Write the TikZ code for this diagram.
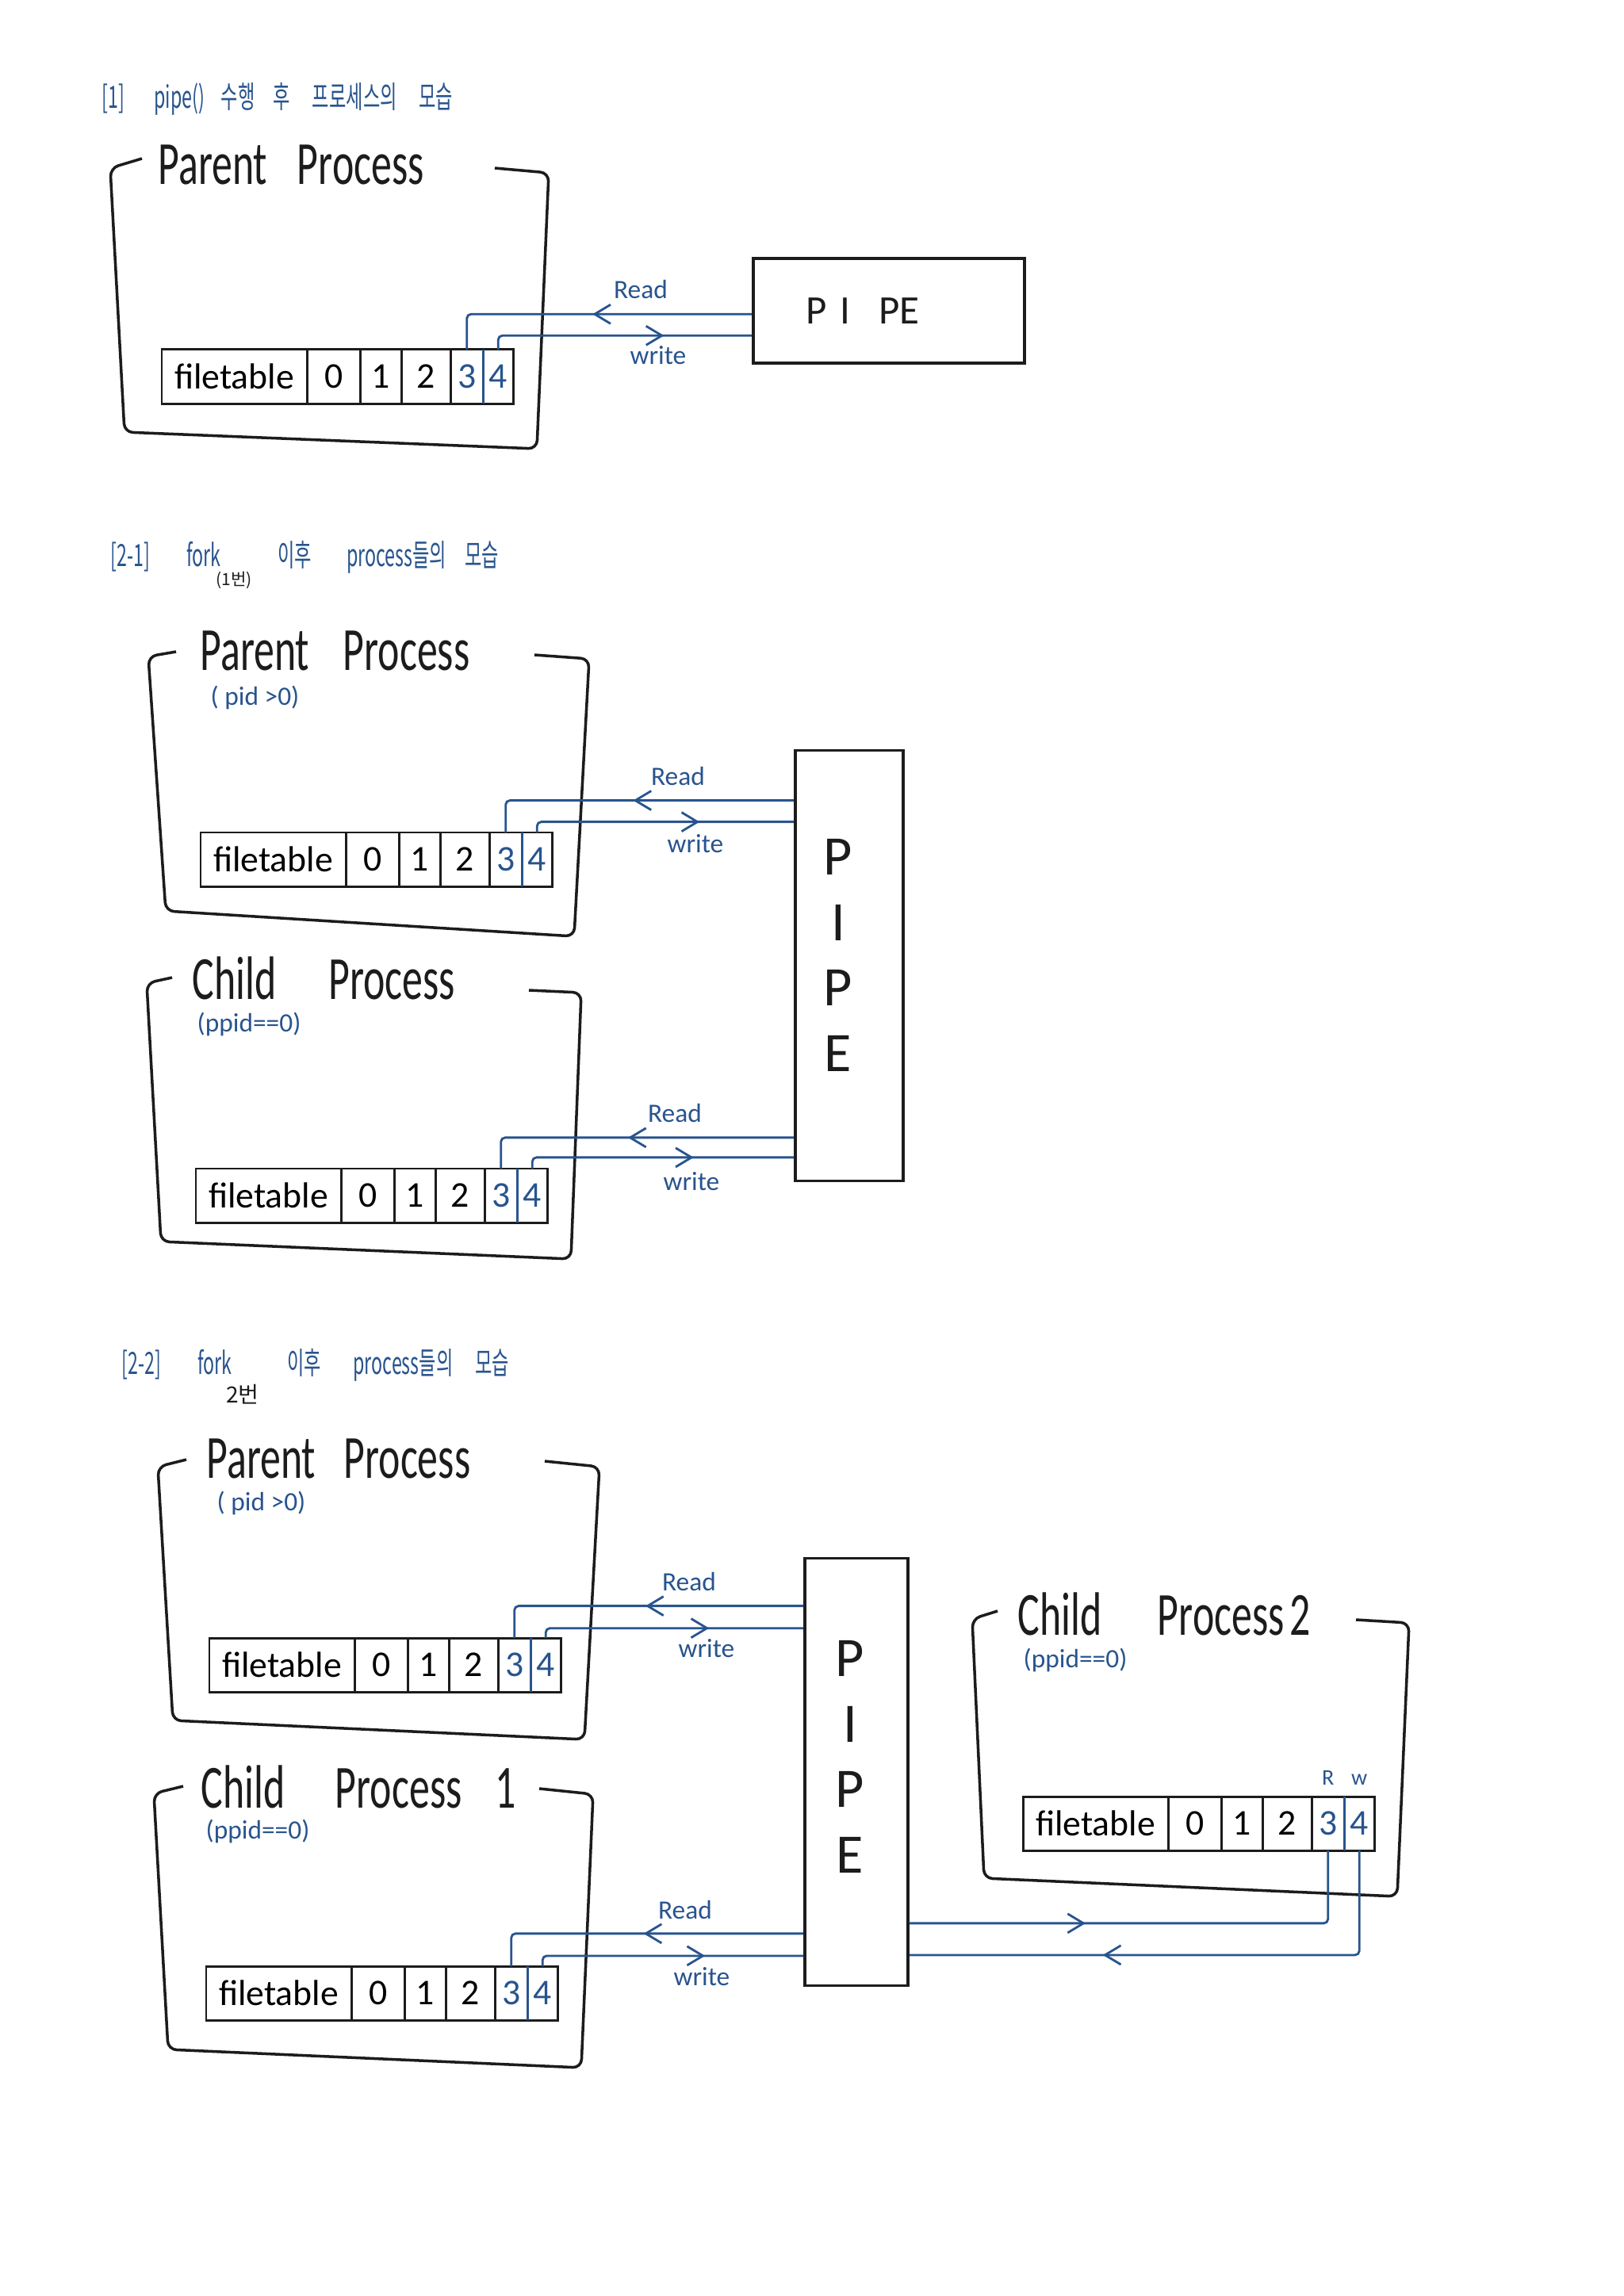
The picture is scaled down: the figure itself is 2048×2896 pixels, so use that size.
\documentclass[tikz,border=0pt]{standalone}
\usepackage{fontspec}
\setmainfont{Carlito}
\newfontfamily\krfont{Noto Sans CJK KR}
\usetikzlibrary{arrows.meta,positioning,decorations.markings}

\definecolor{ink}{RGB}{40,84,142}
\definecolor{pen}{RGB}{28,28,28}

\newcommand{\fdtable}[2]{%
  \node[ftcell, minimum width=1.83cm] (#1f) at (#2) {filetable};
  \node[ftcell, minimum width=0.67cm, right=0pt of #1f] (#10) {0};
  \node[ftcell, minimum width=0.52cm, right=0pt of #10] (#11) {1};
  \node[ftcell, minimum width=0.62cm, right=0pt of #11] (#12) {2};
  \node[ftcell, minimum width=0.41cm, right=0pt of #12, text=ink] (#13) {3};
  \node[ftcell, minimum width=0.38cm, right=0pt of #13, text=ink] (#14) {4};
  \draw[ftline] (#1f.north west) rectangle (#14.south east);
  \draw[ftline] (#10.north west) -- (#10.south west);
  \draw[ftline] (#11.north west) -- (#11.south west);
  \draw[ftline] (#12.north west) -- (#12.south west);
  \draw[ftline] (#13.north west) -- (#13.south west);
  \draw[ftline, ink] (#14.north west) -- (#14.south west);
}

\begin{document}
\begin{tikzpicture}[x=0.01cm, y=-0.01cm,
  procbox/.style={pen, line width=1pt, line join=round, rounded corners=3pt},
  ftline/.style={pen, line width=0.85pt},
  wire/.style={ink, line width=0.8pt, rounded corners=1.5pt},
  midarrow/.style={postaction={decorate}, decoration={markings,
    mark=at position #1 with {\arrow{Straight Barb[length=2mm,width=2.4mm]}}}},
  ftcell/.style={anchor=west, minimum height=0.68cm, inner sep=0pt, outer sep=0pt,
    font=\fontsize{13}{13}\selectfont},
  heading/.style={anchor=west, ink, inner sep=1pt, xscale=0.6, font=\krfont\fontsize{11}{12}\selectfont},
  note/.style={pen, inner sep=1pt, font=\krfont\fontsize{6}{7}\selectfont},
  ptitle/.style={anchor=base west, pen, inner sep=0pt, xscale=0.67, font=\fontsize{22}{24}\selectfont},
  pid/.style={anchor=west, ink, inner sep=0pt, font=\fontsize{9.5}{11}\selectfont},
  lbl/.style={ink, inner sep=1pt, font=\fontsize{9.5}{11}\selectfont},
  pipebox/.style={draw=pen, line width=1pt},
  pipeltr/.style={pen, align=center, font=\fontsize{20}{23.5}\selectfont},
]
  \fill[white] (0,0) rectangle (2048,2896);
  \useasboundingbox (0,0) rectangle (2048,2896);

  \node[heading] (h1) at (126,125) {[1]\hspace{1.6em}pipe()\hspace{0.9em}수행\hspace{1em}후\hspace{1.2em}프로세스의\hspace{1.2em}모습};

  \draw[procbox] (179,200) -- (139,212) -- (157,545) -- (677,566) -- (692,218) -- (624,212);
  \node[ptitle] (aT) at (199,232) {Parent\hspace{16pt}Process};
  \fdtable{a}{204,475}
  \node[pipebox, minimum width=3.42cm, minimum height=1.32cm] (pipeA) at (1121,392) {};
  \node[pen, font=\fontsize{14.5}{15}\selectfont] (pipeAt) at ([xshift=-0.33cm]pipeA.center) {P\hspace{4.7pt}I\hspace{10.4pt}PE};
  \coordinate (aR) at ([yshift=-0.72cm]pipeA.north west);
  \coordinate (aW) at ([yshift=-0.99cm]pipeA.north west);
  \draw[wire, midarrow=0.5] (aR) -| (a3.north);
  \draw[wire, midarrow=0.67] (a4.north) |- (aW);
  \node[lbl] (aRd) at (808,365) {Read};
  \node[lbl] (aWr) at (830,448) {write};

  \node[heading] (h2) at (137,703) {[2-1]\hspace{2em}fork\hspace{3.1em}이후\hspace{1.9em}process들의\hspace{1em}모습};
  \node[note] (h2n) at (295,732) {(1번)};

  \draw[procbox] (222,822) -- (187,828) -- (209,1149) -- (724,1181) -- (743,831) -- (674,826);
  \node[ptitle] (bT) at (252,845) {Parent\hspace{18pt}Process};
  \node[pid] (bP) at (265,880) {( pid >0)};
  \fdtable{b}{253,1084}

  \draw[procbox] (217,1233) -- (185,1240) -- (203,1566) -- (720,1588) -- (733,1252) -- (667,1249);
  \node[ptitle] (cT) at (242,1260) {Child\hspace{28pt}Process};
  \node[pid] (cP) at (248,1292) {(ppid==0)};
  \fdtable{c}{247,1508}

  \node[pipebox, minimum width=1.36cm, minimum height=5.43cm] (pipeB) at (1071,1218) {};
  \node[pipeltr] (pipeBt) at ([xshift=-0.14cm, yshift=0.13cm]pipeB.center) {P\\I\\P\\E};
  \coordinate (bR) at ([yshift=-0.65cm]pipeB.north west);
  \coordinate (bW) at ([yshift=-0.92cm]pipeB.north west);
  \coordinate (cR) at ([yshift=-4.90cm]pipeB.north west);
  \coordinate (cW) at ([yshift=-5.15cm]pipeB.north west);
  \draw[wire, midarrow=0.505] (bR) -| (b3.north);
  \draw[wire, midarrow=0.645] (b4.north) |- (bW);
  \draw[wire, midarrow=0.515] (cR) -| (c3.north);
  \draw[wire, midarrow=0.63] (c4.north) |- (cW);
  \node[lbl] (bRd) at (855,979) {Read};
  \node[lbl] (bWr) at (877,1064) {write};
  \node[lbl] (cRd) at (851,1404) {Read};
  \node[lbl] (cWr) at (872,1490) {write};

  \node[heading] (h3) at (151,1722) {[2-2]\hspace{2em}fork\hspace{3em}이후\hspace{1.75em}process들의\hspace{1.2em}모습};
  \node[note, font=\krfont\fontsize{8}{9}\selectfont] (h3n) at (306,1759) {2번};

  \draw[procbox] (235,1841) -- (199,1850) -- (218,2170) -- (737,2194) -- (756,1850) -- (687,1843);
  \node[ptitle] (dT) at (260,1864) {Parent\hspace{15pt}Process};
  \node[pid] (dP) at (273,1896) {( pid >0)};
  \fdtable{d}{264,2100}

  \draw[procbox] (231,2253) -- (194,2262) -- (212,2585) -- (733,2608) -- (748,2263) -- (680,2256);
  \node[ptitle] (eT) at (253,2280) {Child\hspace{27pt}Process\hspace{18pt}1};
  \node[pid] (eP) at (259,2310) {(ppid==0)};
  \fdtable{e}{260,2514}

  \node[pipebox, minimum width=1.30cm, minimum height=5.39cm] (pipeC) at (1080,2235) {};
  \node[pipeltr] (pipeCt) at ([xshift=-0.08cm, yshift=0.19cm]pipeC.center) {P\\I\\P\\E};

  \draw[procbox] (1258,2032) -- (1226,2042) -- (1241,2369) -- (1762,2392) -- (1777,2047) -- (1710,2043);
  \node[ptitle] (fT) at (1283,2062) {Child\hspace{30pt}Process\hspace{3pt}2};
  \node[pid] (fP) at (1290,2094) {(ppid==0)};
  \fdtable{f}{1290,2300}
  \node[lbl, font=\fontsize{8}{9}\selectfont, above=0.1cm of f3] (fRl) {R};
  \node[lbl, font=\fontsize{8}{9}\selectfont, above=0.1cm of f4] (fWl) {w};

  \coordinate (dR) at ([yshift=-0.62cm]pipeC.north west);
  \coordinate (dW) at ([yshift=-0.90cm]pipeC.north west);
  \coordinate (eR) at ([yshift=-4.75cm]pipeC.north west);
  \coordinate (eW) at ([yshift=-5.03cm]pipeC.north west);
  \coordinate (fR) at ([yshift=-4.62cm]pipeC.north east);
  \coordinate (fW) at ([yshift=-5.02cm]pipeC.north east);
  \draw[wire, midarrow=0.495] (dR) -| (d3.north);
  \draw[wire, midarrow=0.645] (d4.north) |- (dW);
  \draw[wire, midarrow=0.495] (eR) -| (e3.north);
  \draw[wire, midarrow=0.635] (e4.north) |- (eW);
  \draw[wire, midarrow=0.36] (fR) -| (f3.south);
  \draw[wire, midarrow=0.65] (f4.south) |- (fW);
  \node[lbl] (dRd) at (869,1995) {Read};
  \node[lbl] (dWr) at (891,2079) {write};
  \node[lbl] (eRd) at (864,2409) {Read};
  \node[lbl] (eWr) at (885,2493) {write};
\end{tikzpicture}
\end{document}
